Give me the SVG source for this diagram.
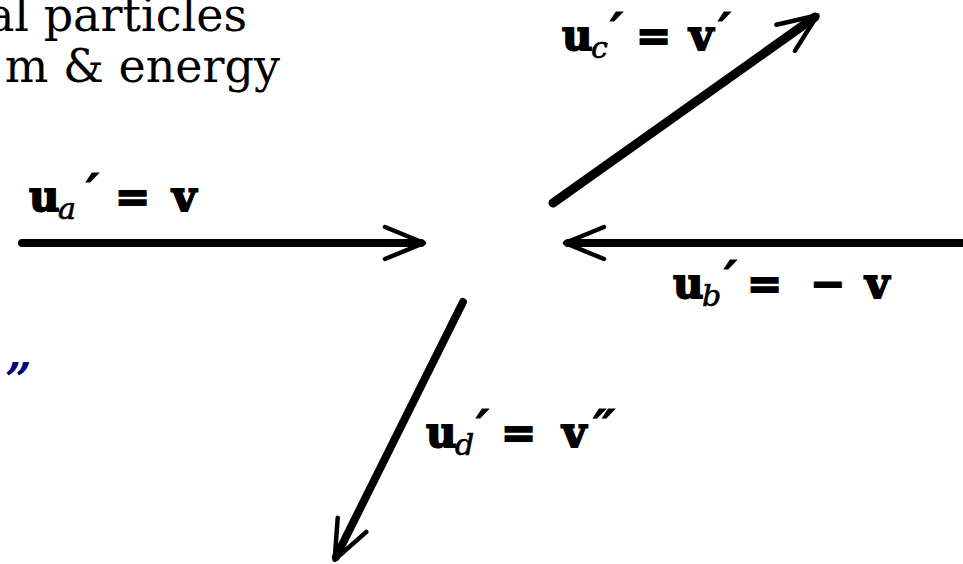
<svg xmlns="http://www.w3.org/2000/svg" width="963" height="564" viewBox="0 0 963 564">
<style>
.cap{font-family:"DejaVu Serif","Liberation Serif",serif;font-size:46px;fill:#000}
.q{font-family:"DejaVu Serif","Liberation Serif",serif;font-size:46px;font-style:italic;font-weight:bold;fill:#000080}
.lbl{font-family:"DejaVu Serif","Liberation Serif",serif;font-size:42px;font-weight:bold;fill:#000;stroke:#000;stroke-width:1.8}
.sub{font-style:italic;font-weight:normal;font-size:30px;stroke-width:0.7}
.pr{font-style:italic;font-weight:bold;font-size:50px;stroke-width:0.8}
.shaft{stroke:#000;stroke-width:8;stroke-linecap:round;fill:none}
</style>
<defs>
<marker id="chev" markerUnits="userSpaceOnUse" viewBox="-46 -22 52 44" markerWidth="52" markerHeight="44" refX="-3" refY="0" orient="auto" overflow="visible">
<path d="M-39,-16 L0,0 L-39,16" fill="none" stroke="#000" stroke-width="4.5" stroke-linecap="round" stroke-linejoin="round"/>
</marker>
</defs>
<rect width="963" height="564" fill="#fff"/>
<g id="title">
<text class="cap" x="247" y="31" text-anchor="end">al particles</text>
<text class="cap" x="280" y="82" text-anchor="end">m &amp; energy</text>
</g>
<g id="quote"><text class="q" x="5" y="396">”</text></g>
<g id="connectors">
<line class="shaft" x1="22" y1="243" x2="421" y2="243" marker-end="url(#chev)"/>
<line class="shaft" x1="963" y1="243" x2="568" y2="243" marker-end="url(#chev)"/>
<line class="shaft" x1="553" y1="203" x2="815" y2="17" marker-end="url(#chev)" style="stroke-width:9"/>
<line class="shaft" x1="463" y1="302" x2="336" y2="557" marker-end="url(#chev)"/>
</g>
<g id="label-a"><text class="lbl"><tspan x="29" y="211">u</tspan><tspan class="sub" x="58" y="219">a</tspan><tspan class="pr" x="86" y="210">′</tspan><tspan x="115" y="211">=</tspan><tspan x="172" y="211">v</tspan></text></g>
<g id="label-b"><text class="lbl"><tspan x="673" y="298">u</tspan><tspan class="sub" x="702" y="306">b</tspan><tspan class="pr" x="724" y="297">′</tspan><tspan x="747" y="298">=</tspan><tspan x="810" y="298">−</tspan><tspan x="865" y="298">v</tspan></text></g>
<g id="label-c"><text class="lbl"><tspan x="562" y="50">u</tspan><tspan class="sub" x="591" y="58">c</tspan><tspan class="pr" x="610" y="49">′</tspan><tspan x="636" y="50">=</tspan><tspan x="689" y="50">v</tspan><tspan class="pr" x="718" y="49">′</tspan></text></g>
<g id="label-d"><text class="lbl"><tspan x="426" y="447">u</tspan><tspan class="sub" x="455" y="455">d</tspan><tspan class="pr" x="476" y="446">′</tspan><tspan x="501" y="447">=</tspan><tspan x="562" y="447">v</tspan><tspan class="pr" x="593" y="446">″</tspan></text></g>
</svg>
